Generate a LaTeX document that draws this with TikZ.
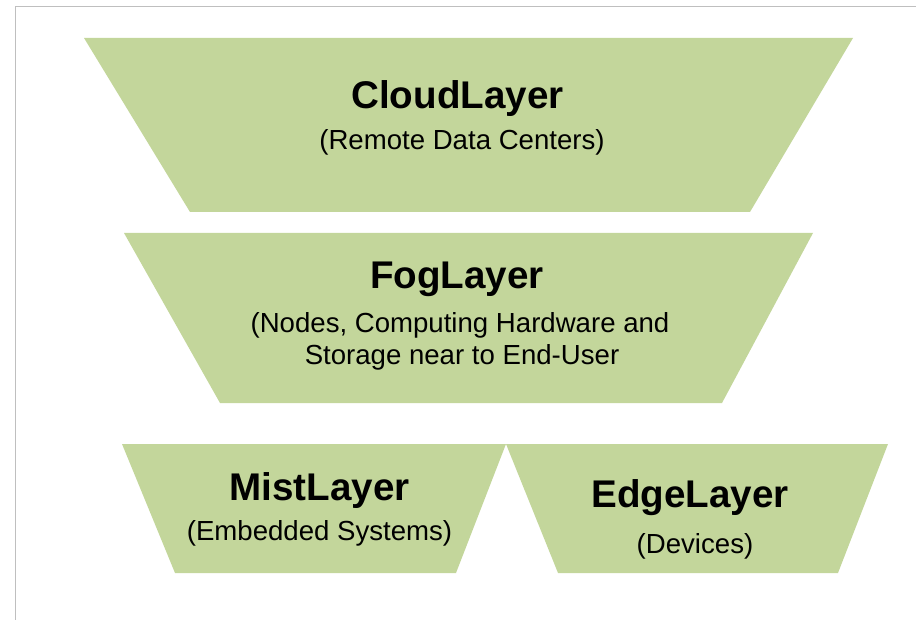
\documentclass[tikz,border=0pt]{standalone}
\usepackage{fontspec}
\setmainfont{Liberation Sans}
\definecolor{layergreen}{HTML}{C3D69B}
\definecolor{framegray}{HTML}{BFBFBF}
\begin{document}
\begin{tikzpicture}[x=1pt,y=-1pt,
  layer/.style={fill=layergreen,draw=none},
  title/.style={anchor=base,font=\fontsize{38.6}{44}\selectfont\bfseries,inner sep=0pt},
  sub/.style={anchor=base,font=\fontsize{27.6}{32}\selectfont,inner sep=0pt}]
\useasboundingbox (0,0) rectangle (916,620);
% frame
\draw[framegray,line width=1.5pt] (15.5,620) -- (15.5,6.5) -- (916,6.5);
% layer shapes
\fill[layer] (84,38) -- (853,38) -- (750,212) -- (190,212) -- cycle;
\fill[layer] (124,233) -- (813,233) -- (722,403) -- (220,403) -- cycle;
\fill[layer] (122,444) -- (506,444) -- (456,573) -- (175,573) -- cycle;
\fill[layer] (506,444) -- (888,444) -- (838,573) -- (558,573) -- cycle;
% labels
\node[title] (cloudt) at (457.5,109) {CloudLayer};
\node[sub] (clouds) at (462,150) {(Remote Data Centers)};
\node[title] (fogt) at (457,289) {FogLayer};
\node[sub] (fogs1) at (460,333) {(Nodes, Computing Hardware and};
\node[sub] (fogs2) at (462,365) {Storage near to End-User};
\node[title] (mistt) at (319.5,500) {MistLayer};
\node[sub] (mists) at (319.5,540) {(Embedded Systems)};
\node[title] (edget) at (690,507) {EdgeLayer};
\node[sub] (edges) at (695,553) {(Devices)};
\end{tikzpicture}
\end{document}
